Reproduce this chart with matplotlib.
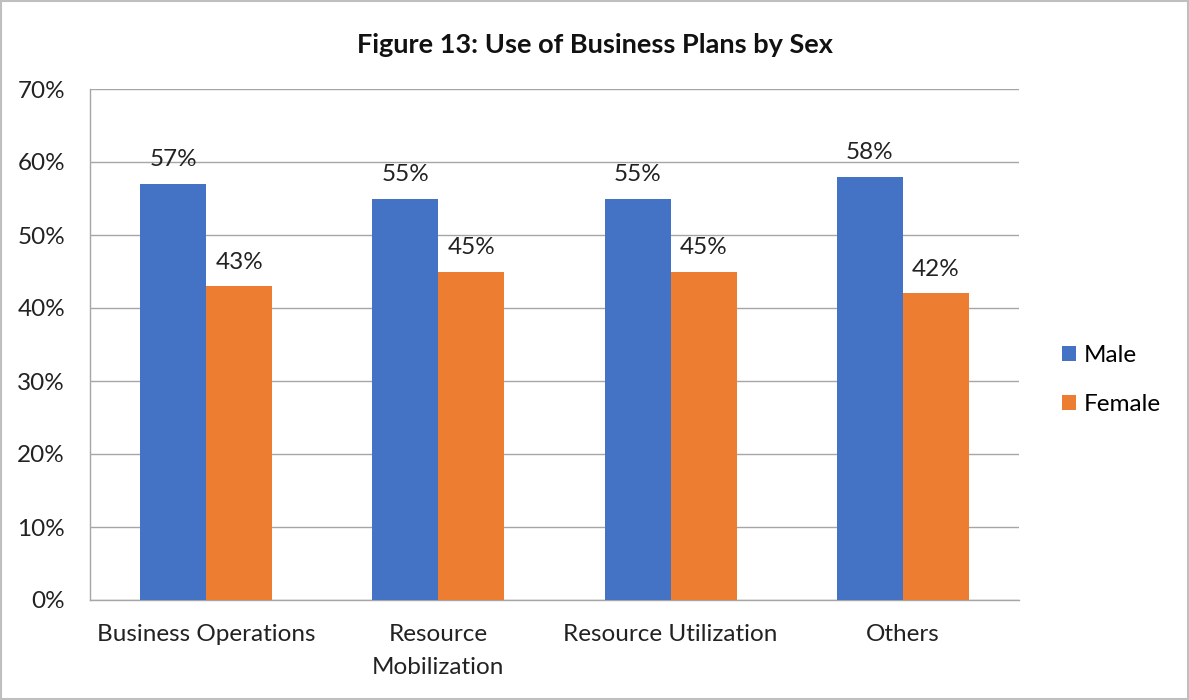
import matplotlib.pyplot as plt
import numpy as np
from matplotlib.patches import Rectangle

plt.rcParams['font.family'] = ['Lato', 'DejaVu Sans']

categories = ["Business Operations", "Resource\nMobilization", "Resource Utilization", "Others"]
male = [57, 55, 55, 58]
female = [43, 45, 45, 42]
yticks = [0, 10, 20, 30, 40, 50, 60, 70]

blue = '#4472C4'
orange = '#ED7D31'
grid_col = '#A6A6A6'
fs = 17.5

fig = plt.figure(figsize=(11.89, 7.00), dpi=100)
W, H = 1189, 700
ax = fig.add_axes([90 / W, 1 - 600 / H, (1019 - 90) / W, (600 - 89) / H])

x = np.arange(len(categories))
w = 0.284
b1 = ax.bar(x - w / 2, male, w, color=blue, label='Male', zorder=3)
b2 = ax.bar(x + w / 2, female, w, color=orange, label='Female', zorder=3)

for bars, vals in ((b1, male), (b2, female)):
    for r, v in zip(bars, vals):
        ax.text(r.get_x() + r.get_width() / 2, v + 3.3, f"{v}%",
                ha='center', va='center', fontsize=fs, color='#222222')

ax.set_xlim(-0.5, 3.5)
ax.set_ylim(0, 70)
ax.set_yticks(yticks)
ax.set_yticklabels([f"{t}%" for t in yticks], fontsize=fs)
ax.set_xticks(x)
ax.set_xticklabels(categories, fontsize=fs, linespacing=1.75)
ax.tick_params(axis='both', length=0, colors='#222222')
ax.tick_params(axis='y', pad=18)
ax.tick_params(axis='x', pad=17)
ax.yaxis.grid(True, color=grid_col, linewidth=1, zorder=0)
for s in ('top', 'right'):
    ax.spines[s].set_visible(False)
for s in ('left', 'bottom'):
    ax.spines[s].set_color(grid_col)
    ax.spines[s].set_linewidth(1)

fig.text(0.5, 1 - 45 / H, "Figure 13: Use of Business Plans by Sex",
         ha='center', va='center', fontsize=19.5, fontweight='bold', color='#111111')

fig.legend(handles=[b1, b2], loc='center left', bbox_to_anchor=(1040 / W, 1 - 380 / H),
           frameon=False, fontsize=fs, handlelength=0.6, handleheight=0.6,
           handletextpad=0.3, labelspacing=1.15)

fig.patches.append(Rectangle((0.001, 0.001), 0.998, 0.997, transform=fig.transFigure,
                             fill=False, edgecolor='#BFBFBF', linewidth=1.5))

fig.savefig('out.png', dpi=100)
